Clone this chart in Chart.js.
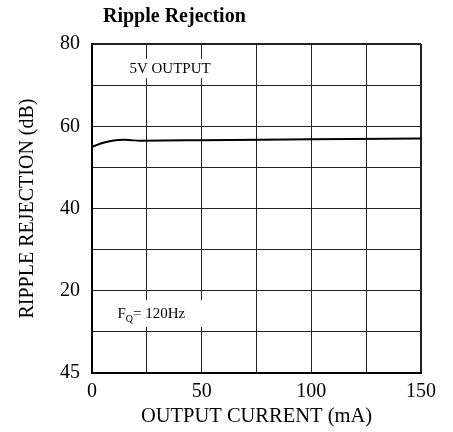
<!DOCTYPE html>
<html>
<head>
<meta charset="utf-8">
<script src="https://cdn.jsdelivr.net/npm/chart.js@4"></script>
<style>
  html, body { margin: 0; padding: 0; background: #fff; }
  #wrap { width: 453px; height: 432px; }
</style>
</head>
<body>
<div id="wrap"><canvas id="chart" width="453" height="432"></canvas></div>
<script>
const outputCurrent = [0, 2, 4, 6, 8, 10, 12, 15, 18, 22, 50, 100, 150];
const rippleRejection = [55.0, 55.4, 55.8, 56.1, 56.35, 56.55, 56.65, 56.7, 56.6, 56.5, 56.6, 56.85, 57.05];

const yTickValues = [0, 20, 40, 60, 80];
const yTickLabels = ["45", "20", "40", "60", "80"];
const xTickValues = [0, 50, 100, 150];
const xTickLabels = ["0", "50", "100", "150"];

const serif = "'Liberation Serif', 'Times New Roman', serif";

// text notes inside the plot, placed in data units
const notes = [
  { parts: [["5V OUTPUT", 15, 0]], x: 35.6, y: 74.2, align: "center", box: [15.5, 55.5, 76.4, 71.7] },
  { parts: [["F", 15, 0], ["Q", 10, 4], ["= 120Hz", 15, 0]], x: 11.6, y: 14.6, align: "left", box: [9.1, 50.5, 17.7, 11.2] },
];

const notesPlugin = {
  id: "notes",
  beforeDatasetsDraw(chart) {
    const { ctx, scales } = chart;
    const xs = scales.x, ys = scales.y;
    ctx.save();
    notes.forEach((n) => {
      const l = xs.getPixelForValue(n.box[0]);
      const r = xs.getPixelForValue(n.box[1]);
      const t = ys.getPixelForValue(n.box[2]);
      const b = ys.getPixelForValue(n.box[3]);
      ctx.fillStyle = "#fff";
      ctx.fillRect(l, t, r - l, b - t);

      let total = 0;
      n.parts.forEach((p) => {
        ctx.font = p[1] + "px " + serif;
        total += ctx.measureText(p[0]).width;
      });
      let x = xs.getPixelForValue(n.x);
      if (n.align === "center") x -= total / 2;
      const y = ys.getPixelForValue(n.y) + 5;
      ctx.fillStyle = "#000";
      ctx.textBaseline = "alphabetic";
      ctx.textAlign = "left";
      n.parts.forEach((p) => {
        ctx.font = p[1] + "px " + serif;
        ctx.fillText(p[0], x, y + p[2]);
        x += ctx.measureText(p[0]).width;
      });
    });
    ctx.restore();
  },
  afterDraw(chart) {
    const ctx = chart.ctx;
    ctx.save();
    ctx.font = "bold 20px " + serif;
    ctx.fillStyle = "#000";
    ctx.textBaseline = "alphabetic";
    ctx.fillText("Ripple Rejection", 103, 21.5);
    ctx.restore();
  },
};

const ctx = document.getElementById("chart").getContext("2d");

new Chart(ctx, {
  type: "line",
  data: {
    datasets: [
      {
        data: outputCurrent.map((c, i) => ({ x: c, y: rippleRejection[i] })),
        borderColor: "#000",
        borderWidth: 2,
        pointRadius: 0,
        fill: false,
        cubicInterpolationMode: "monotone",
      },
    ],
  },
  options: {
    responsive: false,
    animation: false,
    layout: { padding: { left: 0, right: 32, top: 44, bottom: 0 } },
    plugins: {
      legend: { display: false },
      tooltip: { enabled: false },
    },
    scales: {
      x: {
        type: "linear",
        min: 0,
        max: 150,
        afterFit: (scale) => { scale.height = 59; },
        border: { color: "#000", width: 2 },
        grid: {
          drawTicks: false,
          color: "#222",
          lineWidth: (c) => (c.tick && c.tick.value === 150 ? 2 : 1),
        },
        ticks: {
          stepSize: 25,
          padding: 7,
          color: "#000",
          font: { family: serif, size: 20 },
          maxRotation: 0,
          autoSkip: false,
          callback: (v) => {
            const i = xTickValues.indexOf(v);
            return i >= 0 ? xTickLabels[i] : "";
          },
        },
        title: {
          display: true,
          text: "OUTPUT CURRENT (mA)",
          color: "#000",
          font: { family: serif, size: 20.5 },
          padding: { top: 0, bottom: 3 },
        },
      },
      y: {
        min: 0,
        max: 80,
        afterFit: (scale) => { scale.width = 92; },
        border: { color: "#000", width: 2 },
        grid: {
          drawTicks: false,
          color: "#222",
          lineWidth: (c) => (c.tick && c.tick.value === 80 ? 2 : 1),
        },
        ticks: {
          stepSize: 10,
          padding: 12,
          color: "#000",
          font: { family: serif, size: 20 },
          autoSkip: false,
          callback: (v) => {
            const i = yTickValues.indexOf(v);
            return i >= 0 ? yTickLabels[i] : "";
          },
        },
        title: {
          display: true,
          text: "RIPPLE REJECTION (dB)",
          color: "#000",
          font: { family: serif, size: 20 },
          padding: { top: 16, bottom: 0 },
        },
      },
    },
  },
  plugins: [notesPlugin],
});
</script>
</body>
</html>
